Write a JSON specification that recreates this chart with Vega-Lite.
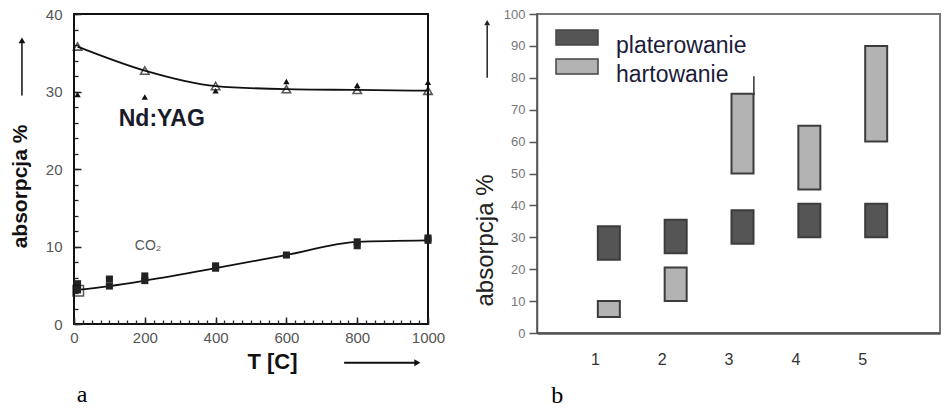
{
  "$schema": "https://vega.github.io/schema/vega-lite/v6.json",
  "background": "white",
  "padding": {"left": 8, "top": 6, "right": 0, "bottom": 0},
  "spacing": 26,
  "config": {"font": "Liberation Sans", "axis": {"grid": false, "labelOverlap": false}},
  "resolve": {"scale": {"x": "independent", "y": "independent", "color": "independent"}},
  "hconcat": [
    {
      "width": 354,
      "height": 310,
      "view": {"stroke": "#111", "strokeWidth": 2},
      "resolve": {"axis": {"x": "independent", "y": "independent"}},
      "layer": [
        {
          "data": {"values": [
            {"T": 10, "A": 35.8}, {"T": 200, "A": 32.7}, {"T": 400, "A": 30.7},
            {"T": 600, "A": 30.3}, {"T": 800, "A": 30.2}, {"T": 1000, "A": 30.1}
          ]},
          "mark": {"type": "line", "interpolate": "monotone", "color": "#111", "strokeWidth": 1.8},
          "encoding": {
            "x": {"field": "T", "type": "quantitative", "scale": {"domain": [0, 1000], "nice": false, "zero": false},
              "axis": {
                "orient": "bottom", "values": [0, 200, 400, 600, 800, 1000], "format": "d",
                "labelOverlap": false, "labelFlush": false, "domain": false,
                "tickSize": -7, "tickColor": "#222", "tickWidth": 1.5,
                "labelPadding": 13, "labelFontSize": 15, "labelColor": "#555",
                "title": "T [C]", "titleFontSize": 22, "titleFontWeight": "bold", "titleColor": "#111",
                "titleX": 198, "titleY": 37, "titleBaseline": "middle"
              }},
            "y": {"field": "A", "type": "quantitative", "scale": {"domain": [0, 40], "nice": false},
              "axis": {
                "orient": "left", "values": [0, 10, 20, 30, 40], "format": "d",
                "labelOverlap": false, "labelFlush": false, "domain": false,
                "tickSize": -7, "tickColor": "#222", "tickWidth": 1.5,
                "labelPadding": 19, "labelFontSize": 15, "labelColor": "#555",
                "title": "absorpcja %", "titleFontSize": 21, "titleFontWeight": "bold", "titleColor": "#111",
                "titleX": -54, "titleY": 172, "titleBaseline": "middle"
              }}
          }
        },
        {
          "data": {"values": [
            {"T": 10, "A": 35.8}, {"T": 200, "A": 32.7}, {"T": 400, "A": 30.7},
            {"T": 600, "A": 30.3}, {"T": 800, "A": 30.2}, {"T": 1000, "A": 30.1}
          ]},
          "mark": {"type": "point", "shape": "triangle-up", "filled": false, "stroke": "#111", "strokeWidth": 1.6, "size": 70},
          "encoding": {
            "x": {"field": "T", "type": "quantitative",
              "axis": {
                "orient": "bottom",
                "values": [0,25,50,75,100,125,150,175,200,225,250,275,300,325,350,375,400,425,450,475,500,525,550,575,600,625,650,675,700,725,750,775,800,825,850,875,900,925,950,975,1000],
                "labels": false, "domain": false, "grid": false, "title": null,
                "tickSize": -4, "tickColor": "#222", "tickWidth": 1.3
              }},
            "y": {"field": "A", "type": "quantitative",
              "axis": {
                "orient": "left",
                "values": [0,2,4,6,8,10,12,14,16,18,20,22,24,26,28,30,32,34,36,38,40],
                "labels": false, "domain": false, "grid": false, "title": null,
                "tickSize": -4, "tickColor": "#222", "tickWidth": 1.3
              }}
          }
        },
        {
          "data": {"values": [
            {"T": 10, "A": 29.6}, {"T": 200, "A": 29.3}, {"T": 400, "A": 30.1},
            {"T": 600, "A": 31.3}, {"T": 800, "A": 30.8}, {"T": 1000, "A": 31.2}
          ]},
          "mark": {"type": "point", "shape": "triangle-up", "filled": true, "color": "#111", "size": 40, "opacity": 1},
          "encoding": {"x": {"field": "T", "type": "quantitative", "axis": null}, "y": {"field": "A", "type": "quantitative", "axis": null}}
        },
        {
          "data": {"values": [
            {"T": 10, "A": 4.4}, {"T": 100, "A": 4.9}, {"T": 200, "A": 5.6}, {"T": 400, "A": 7.2},
            {"T": 600, "A": 8.9}, {"T": 800, "A": 10.6}, {"T": 1000, "A": 10.8}
          ]},
          "mark": {"type": "line", "interpolate": "monotone", "color": "#111", "strokeWidth": 1.8},
          "encoding": {"x": {"field": "T", "type": "quantitative", "axis": null}, "y": {"field": "A", "type": "quantitative", "axis": null}}
        },
        {
          "data": {"values": [
            {"T": 10, "A": 4.4}, {"T": 100, "A": 4.9}, {"T": 200, "A": 5.6}, {"T": 400, "A": 7.2},
            {"T": 600, "A": 8.9}, {"T": 800, "A": 10.6}, {"T": 1000, "A": 10.8},
            {"T": 10, "A": 5.2}, {"T": 100, "A": 5.8}, {"T": 200, "A": 6.2}, {"T": 400, "A": 7.5},
            {"T": 800, "A": 10.1}, {"T": 1000, "A": 11.1}
          ]},
          "mark": {"type": "point", "shape": "square", "filled": true, "color": "#222", "size": 50, "opacity": 1},
          "encoding": {"x": {"field": "T", "type": "quantitative", "axis": null}, "y": {"field": "A", "type": "quantitative", "axis": null}}
        },
        {
          "data": {"values": [{"T": 12, "A": 4.3}]},
          "mark": {"type": "point", "shape": "square", "filled": false, "stroke": "#111", "strokeWidth": 1.5, "size": 110},
          "encoding": {"x": {"field": "T", "type": "quantitative", "axis": null}, "y": {"field": "A", "type": "quantitative", "axis": null}}
        },
        {
          "data": {"values": [{"T": 248, "A": 26.5, "label": "Nd:YAG"}]},
          "mark": {"type": "text", "fontSize": 23, "fontWeight": "bold", "color": "#1a1a2a", "baseline": "middle", "align": "center"},
          "encoding": {"x": {"field": "T", "type": "quantitative", "axis": null}, "y": {"field": "A", "type": "quantitative", "axis": null}, "text": {"field": "label"}}
        },
        {
          "data": {"values": [{"T": 209, "A": 10.1, "label": "CO₂"}]},
          "mark": {"type": "text", "fontSize": 14, "color": "#555", "baseline": "middle", "align": "center"},
          "encoding": {"x": {"field": "T", "type": "quantitative", "axis": null}, "y": {"field": "A", "type": "quantitative", "axis": null}, "text": {"field": "label"}}
        },
        {
          "data": {"values": [{"T": 23, "A": -10.1, "label": "a"}]},
          "mark": {"type": "text", "font": "Liberation Serif", "fontSize": 24, "color": "#000", "baseline": "alphabetic", "align": "center"},
          "encoding": {"x": {"field": "T", "type": "quantitative", "axis": null}, "y": {"field": "A", "type": "quantitative", "axis": null}, "text": {"field": "label"}}
        },
        {
          "data": {"values": [{"T": -147, "A": 29.5, "A2": 36.3}]},
          "mark": {"type": "rule", "color": "#111", "strokeWidth": 1.5},
          "encoding": {"x": {"field": "T", "type": "quantitative", "axis": null}, "y": {"field": "A", "type": "quantitative", "axis": null}, "y2": {"field": "A2"}}
        },
        {
          "data": {"values": [{"T": -147, "A": 36.6}]},
          "mark": {"type": "point", "shape": "triangle-up", "filled": true, "color": "#111", "size": 45, "opacity": 1},
          "encoding": {"x": {"field": "T", "type": "quantitative", "axis": null}, "y": {"field": "A", "type": "quantitative", "axis": null}}
        },
        {
          "data": {"values": [{"T": 763, "T2": 965, "A": -5.0}]},
          "mark": {"type": "rule", "color": "#111", "strokeWidth": 1.8},
          "encoding": {"x": {"field": "T", "type": "quantitative", "axis": null}, "x2": {"field": "T2"}, "y": {"field": "A", "type": "quantitative", "axis": null}}
        },
        {
          "data": {"values": [{"T": 970, "A": -5.0}]},
          "mark": {"type": "point", "shape": "triangle-right", "filled": true, "color": "#111", "size": 50, "opacity": 1},
          "encoding": {"x": {"field": "T", "type": "quantitative", "axis": null}, "y": {"field": "A", "type": "quantitative", "axis": null}}
        }
      ]
    },
    {
      "width": 403,
      "height": 319,
      "view": {"stroke": "#777", "strokeWidth": 2},
      "resolve": {"axis": {"x": "independent", "y": "independent"}},
      "layer": [
        {
          "data": {"values": [
            {"nr": 1, "typ": "platerowanie", "lo": 23, "hi": 33.5},
            {"nr": 2, "typ": "platerowanie", "lo": 25, "hi": 35.5},
            {"nr": 3, "typ": "platerowanie", "lo": 28, "hi": 38.5},
            {"nr": 4, "typ": "platerowanie", "lo": 30, "hi": 40.5},
            {"nr": 5, "typ": "platerowanie", "lo": 30, "hi": 40.5},
            {"nr": 1, "typ": "hartowanie", "lo": 5, "hi": 10},
            {"nr": 2, "typ": "hartowanie", "lo": 10, "hi": 20.5},
            {"nr": 3, "typ": "hartowanie", "lo": 50, "hi": 75},
            {"nr": 4, "typ": "hartowanie", "lo": 45, "hi": 65},
            {"nr": 5, "typ": "hartowanie", "lo": 60, "hi": 90}
          ]},
          "mark": {"type": "bar", "size": 22, "stroke": "#3c3c3c", "strokeWidth": 2},
          "encoding": {
            "x": {"field": "nr", "type": "quantitative", "scale": {"domain": [0, 5.88], "nice": false, "zero": false},
              "axis": {
                "orient": "bottom", "values": [1, 2, 3, 4, 5], "format": "d", "ticks": false, "labelPadding": 18, "labelOffset": -14,
                "labelFontSize": 16, "labelColor": "#333", "labelFlush": false, "labelOverlap": false, "title": null,
                "domainColor": "#555", "domainWidth": 2.5
              }},
            "y": {"field": "lo", "type": "quantitative", "scale": {"domain": [0, 100], "nice": false},
              "axis": {
                "orient": "left", "values": [0,10,20,30,40,50,60,70,80,90,100], "format": "d", "tickSize": 8, "tickColor": "#555", "tickWidth": 1.5,
                "labelPadding": 4, "labelFontSize": 13, "labelColor": "#777", "labelFlush": false, "labelOverlap": false,
                "domainColor": "#555", "domainWidth": 1.5,
                "title": "absorpcja %", "titleFontSize": 24, "titleFontWeight": "normal", "titleColor": "#222",
                "titleX": -52, "titleY": 226, "titleBaseline": "middle"
              }},
            "y2": {"field": "hi"},
            "color": {"field": "typ", "type": "nominal",
              "scale": {"domain": ["platerowanie", "hartowanie"], "range": ["#555555", "#b3b3b3"]},
              "legend": {
                "orient": "none", "legendX": 28.5, "legendY": 20.5, "title": null, "padding": 0,
                "symbolType": "M-2.8,-2.13H2.8V-0.13H-2.8Z", "symbolSize": 225,
                "symbolStrokeColor": "#444", "symbolStrokeWidth": 1.5,
                "labelFontSize": 23, "labelColor": "#1c1c3a", "labelOffset": 27.5,
                "rowPadding": -3, "labelBaseline": "middle"
              }}
          }
        },
        {
          "data": {"values": [{"nr": 3.17, "lo": 74.5, "hi": 80.5}]},
          "mark": {"type": "rule", "color": "#333", "strokeWidth": 1.5},
          "encoding": {"x": {"field": "nr", "type": "quantitative", "axis": null}, "y": {"field": "lo", "type": "quantitative", "axis": null}, "y2": {"field": "hi"}}
        },
        {
          "data": {"values": [{"nr": -0.82, "lo": 80, "hi": 96.5}]},
          "mark": {"type": "rule", "color": "#222", "strokeWidth": 1.5},
          "encoding": {"x": {"field": "nr", "type": "quantitative", "axis": null}, "y": {"field": "lo", "type": "quantitative", "axis": null}, "y2": {"field": "hi"}}
        },
        {
          "data": {"values": [{"nr": -0.82, "lo": 97.3}]},
          "mark": {"type": "point", "shape": "triangle-up", "filled": true, "color": "#222", "size": 35, "opacity": 1},
          "encoding": {"x": {"field": "nr", "type": "quantitative", "axis": null}, "y": {"field": "lo", "type": "quantitative", "axis": null}}
        },
        {
          "data": {"values": [{"nr": 0.23, "lo": -21.9, "label": "b"}]},
          "mark": {"type": "text", "font": "Liberation Serif", "fontSize": 24, "color": "#000", "baseline": "alphabetic", "align": "center"},
          "encoding": {"x": {"field": "nr", "type": "quantitative", "axis": null}, "y": {"field": "lo", "type": "quantitative", "axis": null}, "text": {"field": "label"}}
        }
      ]
    }
  ]
}
